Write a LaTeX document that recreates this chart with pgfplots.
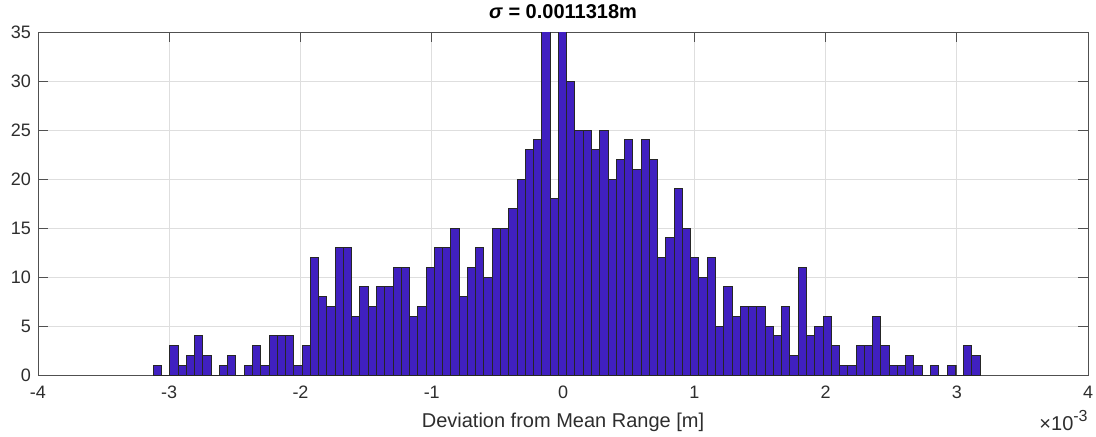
\documentclass[border=0pt]{standalone}
\usepackage{pgfplots}
\pgfplotsset{compat=1.18}
\usepackage{fontspec}
\setmainfont{Liberation Sans}
\definecolor{barfill}{RGB}{64,32,192}
\definecolor{axisgray}{RGB}{80,80,80}
\definecolor{textgray}{RGB}{45,45,45}
\begin{document}
\begin{tikzpicture}
\begin{axis}[
  at={(0,0)}, anchor=south west,
  width=525pt, height=171.5pt, scale only axis,
  xmin=-4, xmax=4, ymin=0, ymax=35,
  xtick={-4,-3,...,4}, ytick={0,5,...,35},
  tick align=inside, major tick length=5pt,
  xmajorgrids, ymajorgrids,
  grid style={black!13, line width=0.5pt},
  axis line style={axisgray, line width=0.5pt},
  tick style={axisgray, line width=0.5pt},
  clip mode=individual,
  ticklabel style={font=\fontsize{9}{10}\selectfont, text=textgray},
  xticklabel style={yshift=-2pt},
  /pgf/number format/assume math mode=true,
  xlabel={Deviation from Mean Range [m]},
  xlabel style={font=\fontsize{10}{12}\selectfont, text=textgray},
  title={\textbf{\textit{σ} = 0.0011318m}},
  title style={font=\fontsize{10}{12}\selectfont, text=black, yshift=-3pt},
]
% histogram: left bin edges (x 1e-3 m) and counts; last row closes the final bin
\addplot[ybar interval, fill=barfill, draw=black!85, line width=0.5pt] table[row sep=\\] {
x y \\
-3.122 1 \\ -3.059 0 \\ -2.996 3 \\ -2.933 1 \\ -2.870 2 \\
-2.807 4 \\ -2.744 2 \\ -2.681 0 \\ -2.618 1 \\ -2.555 2 \\
-2.492 0 \\ -2.429 1 \\ -2.366 3 \\ -2.303 1 \\ -2.240 4 \\
-2.177 4 \\ -2.114 4 \\ -2.051 1 \\ -1.988 3 \\ -1.925 12 \\
-1.862 8 \\ -1.799 7 \\ -1.736 13 \\ -1.673 13 \\ -1.610 6 \\
-1.547 9 \\ -1.484 7 \\ -1.421 9 \\ -1.358 9 \\ -1.295 11 \\
-1.232 11 \\ -1.169 6 \\ -1.106 7 \\ -1.043 11 \\ -0.980 13 \\
-0.917 13 \\ -0.854 15 \\ -0.791 8 \\ -0.728 11 \\ -0.665 13 \\
-0.602 10 \\ -0.539 15 \\ -0.476 15 \\ -0.413 17 \\ -0.350 20 \\
-0.287 23 \\ -0.224 24 \\ -0.161 36 \\ -0.098 18 \\ -0.035 36 \\
0.028 30 \\ 0.091 25 \\ 0.154 25 \\ 0.217 23 \\ 0.280 25 \\
0.343 20 \\ 0.406 22 \\ 0.469 24 \\ 0.532 21 \\ 0.595 24 \\
0.658 22 \\ 0.721 12 \\ 0.784 14 \\ 0.847 19 \\ 0.910 15 \\
0.973 12 \\ 1.036 10 \\ 1.099 12 \\ 1.162 5 \\ 1.225 9 \\
1.288 6 \\ 1.351 7 \\ 1.414 7 \\ 1.477 7 \\ 1.540 5 \\
1.603 4 \\ 1.666 7 \\ 1.729 2 \\ 1.792 11 \\ 1.855 4 \\
1.918 5 \\ 1.981 6 \\ 2.044 3 \\ 2.107 1 \\ 2.170 1 \\
2.233 3 \\ 2.296 3 \\ 2.359 6 \\ 2.422 3 \\ 2.485 1 \\
2.548 1 \\ 2.611 2 \\ 2.674 1 \\ 2.737 0 \\ 2.800 1 \\
2.863 0 \\ 2.926 1 \\ 2.989 0 \\ 3.052 3 \\ 3.115 2 \\
3.178 0 \\
};
\node[anchor=base east, font=\fontsize{10}{12}\selectfont, text=textgray, inner sep=0pt]
  at (rel axis cs:1,0) [yshift=-27.5pt] {×10\raisebox{0.45em}{\fontsize{8}{9}\selectfont -3}};
\end{axis}
\pgfresetboundingbox
\path (-19pt,-30.5pt) rectangle (529pt,187.5pt);
\end{tikzpicture}
\end{document}
